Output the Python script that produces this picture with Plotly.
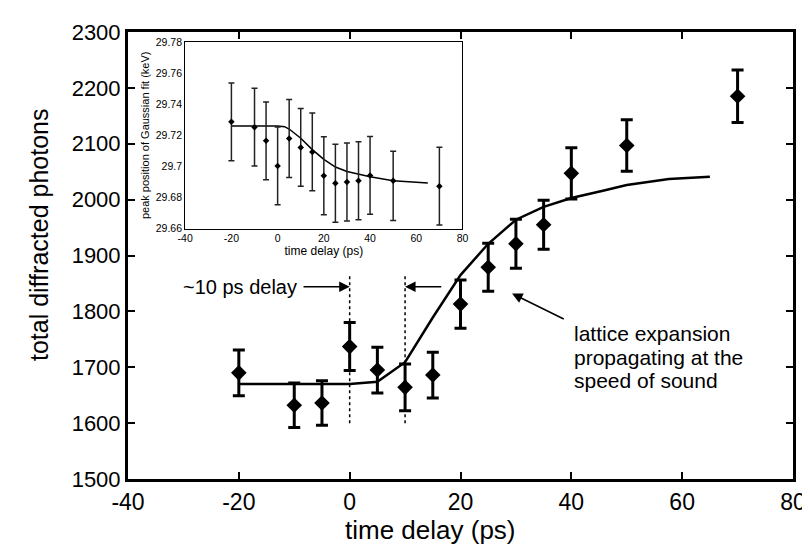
import plotly.graph_objects as go

# main data: total diffracted photons vs time delay
t = [-20, -10, -5, 0, 5, 10, 15, 20, 25, 30, 35, 40, 50, 70]
photons = [1690, 1632, 1636, 1737, 1695, 1664, 1686, 1813, 1879, 1921, 1955, 2047, 2097, 2185]
photons_err = [41, 40, 40, 43, 41, 42, 41, 43, 43, 44, 44, 46, 46, 47]

# fit curve
fit_t = [-20, 0, 5, 10, 15, 20, 25, 30, 35, 40, 45.7, 50, 57.6, 65]
fit_photons = [1670, 1670, 1674, 1709, 1789, 1865, 1921, 1964, 1987, 2003, 2016, 2026, 2037, 2041]

# inset: peak position of gaussian fit
peak = [29.7286, 29.7252, 29.7164, 29.7003, 29.7179, 29.7122, 29.7093,
        29.694, 29.6892, 29.69, 29.6908, 29.6942, 29.6908, 29.6873]
peak_plus = [0.025, 0.025, 0.025, 0.025, 0.025, 0.025, 0.025,
             0.025, 0.025, 0.025, 0.025, 0.025, 0.019, 0.025]
peak_minus = [0.025, 0.025, 0.025, 0.025, 0.025, 0.025, 0.025,
              0.025, 0.025, 0.025, 0.025, 0.025, 0.0255, 0.025]
peak_fit_t = [-20, 0, 3, 5, 10, 15, 20, 25, 30, 40, 50, 65]
peak_fit = [29.726, 29.726, 29.7255, 29.724, 29.7181, 29.7108, 29.7045,
            29.6996, 29.6967, 29.6934, 29.6908, 29.6894]

# tick labels (plain hyphen minus, like the original)
x_ticks = [-40, -20, 0, 20, 40, 60, 80]
x_ticktext = ["-40", "-20", "0", "20", "40", "60", "80"]
inset_yticks = [29.66, 29.68, 29.70, 29.72, 29.74, 29.76, 29.78]
inset_yticktext = ["29.66", "29.68", "29.7", "29.72", "29.74", "29.76", "29.78"]

note_lines = ["lattice expansion", "propagating at the", "speed of sound"]
note_y = [1760, 1718, 1677]

FONT = "Liberation Sans, Arial, sans-serif"

fig = go.Figure()

# main plot
fig.add_trace(go.Scatter(x=fit_t, y=fit_photons, mode="lines",
                         line=dict(color="black", width=2.5), showlegend=False))
fig.add_trace(go.Scatter(x=t, y=photons, mode="markers",
                         marker=dict(symbol="diamond", size=12, color="black"),
                         error_y=dict(type="data", array=photons_err, color="black",
                                      thickness=3, width=6),
                         showlegend=False))

# dotted lines at 0 and 10 ps
for xv in [0, 10]:
    fig.add_trace(go.Scatter(x=[xv, xv], y=[1600, 1865], mode="lines",
                             line=dict(color="black", width=1.5, dash="dot"),
                             showlegend=False))

# inset
fig.add_trace(go.Scatter(x=peak_fit_t, y=peak_fit, mode="lines",
                         line=dict(color="black", width=1.5),
                         xaxis="x2", yaxis="y2", showlegend=False))
fig.add_trace(go.Scatter(x=t, y=peak, mode="markers",
                         marker=dict(symbol="diamond", size=5, color="black"),
                         error_y=dict(type="data", symmetric=False, array=peak_plus,
                                      arrayminus=peak_minus, color="#222",
                                      thickness=1.5, width=3),
                         xaxis="x2", yaxis="y2", showlegend=False))

axis_main = dict(showline=True, linewidth=3, linecolor="black", mirror="ticks",
                 ticks="inside", ticklen=7, tickwidth=2, tickcolor="black",
                 showgrid=False, zeroline=False)

fig.update_layout(
    width=810, height=549,
    margin=dict(l=120, r=18, t=15, b=78),
    paper_bgcolor="white", plot_bgcolor="white",
    font=dict(family=FONT, color="black"),
    xaxis=dict(axis_main, range=[-40, 80], tickvals=x_ticks, ticktext=x_ticktext,
               tickfont=dict(size=23)),
    yaxis=dict(axis_main, range=[1500, 2300], dtick=100,
               tickfont=dict(size=22)),
    xaxis2=dict(domain=[0.086, 0.503], anchor="y2", range=[-40, 80],
                tickvals=x_ticks, ticktext=x_ticktext,
                showline=True, linewidth=1.2, linecolor="black", mirror=True,
                ticks="", showgrid=False, zeroline=False,
                tickfont=dict(size=10.5),
                title=dict(text="time delay (ps)", font=dict(size=12), standoff=2)),
    yaxis2=dict(domain=[0.56, 0.978], anchor="x2", range=[29.66, 29.78],
                tickvals=inset_yticks, ticktext=inset_yticktext,
                showline=True, linewidth=1.2, linecolor="black", mirror=True,
                ticks="", showgrid=False, zeroline=False,
                tickfont=dict(size=10.5),
                title=dict(text="peak position of Gaussian fit (keV)",
                           font=dict(size=11), standoff=3)),
)

# axis titles as annotations (slightly off-centre in the original)
fig.add_annotation(x=0.455, y=-0.114, xref="paper", yref="paper",
                   text="time delay (ps)", showarrow=False,
                   xanchor="center", yanchor="middle", font=dict(size=26))
fig.add_annotation(x=-0.133, y=0.547, xref="paper", yref="paper",
                   text="total diffracted photons", showarrow=False, textangle=-90,
                   xanchor="center", yanchor="middle", font=dict(size=25))

# arrows and notes
arrow = dict(showarrow=True, arrowhead=2, arrowsize=1.4, arrowwidth=1.5,
             arrowcolor="black", axref="x", ayref="y", text="")
fig.add_annotation(arrow, x=0, y=1844, ax=-8.6, ay=1844)
fig.add_annotation(arrow, x=10, y=1844, ax=16.8, ay=1844)
fig.add_annotation(arrow, x=29.3, y=1832, ax=38.9, ay=1785)
fig.add_annotation(x=-9.1, y=1844, text="~10 ps delay", showarrow=False,
                   xanchor="right", yanchor="middle", font=dict(size=20))
for line, yv in zip(note_lines, note_y):
    fig.add_annotation(x=40.1, y=yv, text=line, showarrow=False,
                       xanchor="left", yanchor="middle", font=dict(size=21))

fig.write_html("out.html")
